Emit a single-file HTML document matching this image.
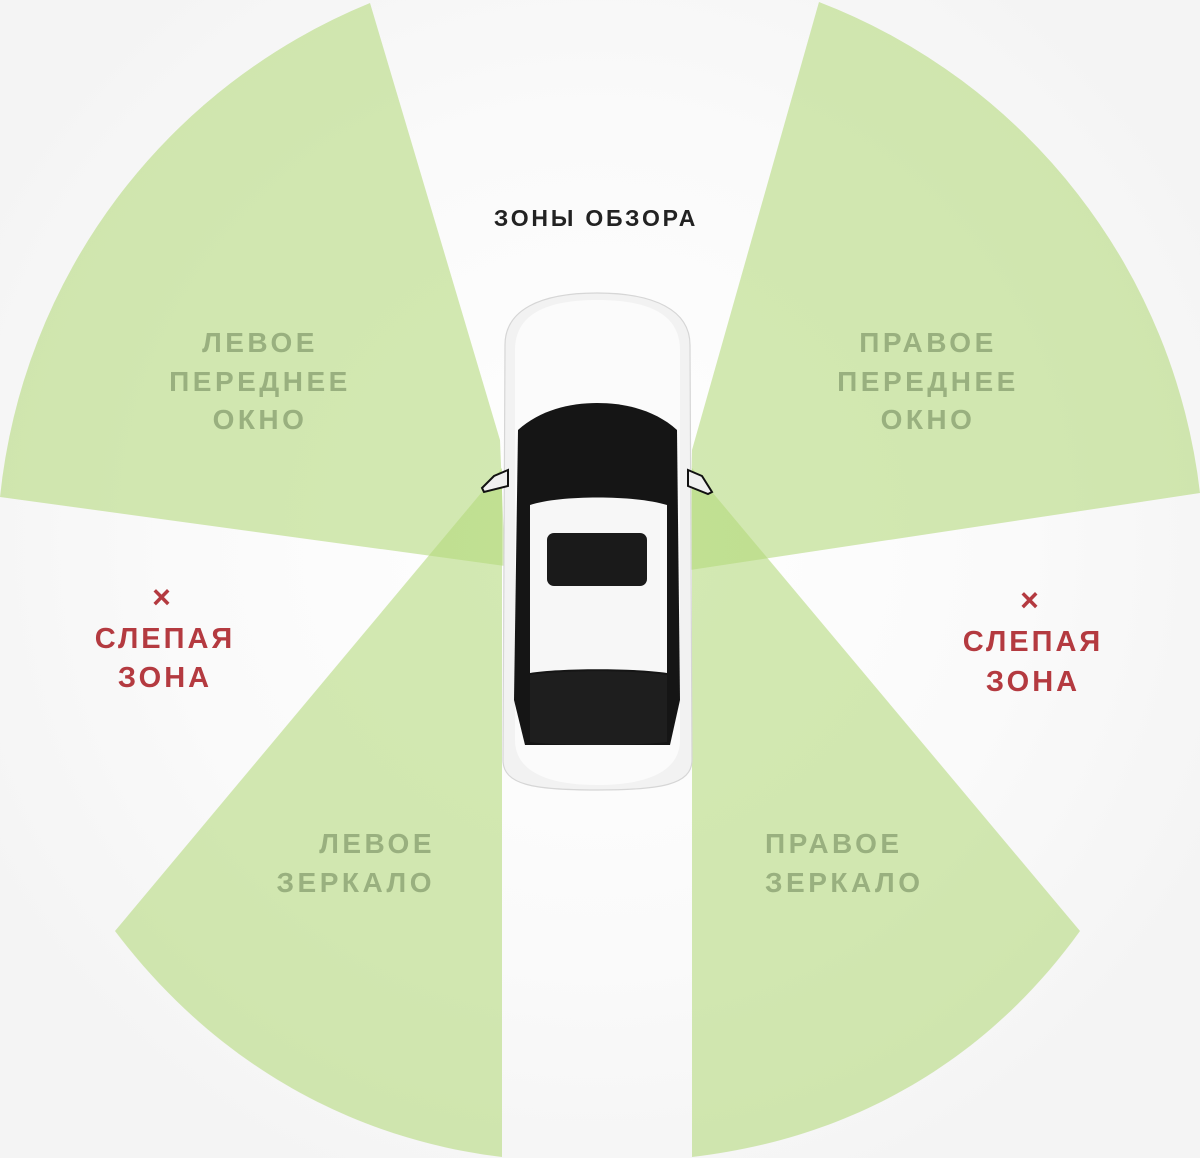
<!DOCTYPE html>
<html><head><meta charset="utf-8"><style>
html,body{margin:0;padding:0;}
body{width:1200px;height:1158px;overflow:hidden;background:#f5f5f5;}
svg{display:block;}
text{font-family:"Liberation Sans",sans-serif;font-weight:bold;}
</style></head><body>
<svg width="1200" height="1158" viewBox="0 0 1200 1158" xmlns="http://www.w3.org/2000/svg">
<defs>
<radialGradient id="bg" cx="597" cy="540" r="700" gradientUnits="userSpaceOnUse">
<stop offset="0" stop-color="#ffffff"/><stop offset="0.6" stop-color="#fafafa"/><stop offset="1" stop-color="#f4f4f4"/>
</radialGradient>
</defs>
<rect width="1200" height="1158" fill="url(#bg)"/>
<g fill="#b3d97b" fill-opacity="0.58">
<path d="M370,3 A600 600 0 0 0 0,497 L505,566 L500,440 Z"/>
<path d="M819,2 A600 600 0 0 1 1200,493 L690,570 L692,450 Z"/>
<path d="M115,931 C220,1070 360,1140 502,1157 L502,468 Z"/>
<path d="M1080,931 C980,1070 840,1140 692,1157 L692,468 Z"/>
</g>
<g>
<path d="M505,345 C505,310 540,293 597,293 C654,293 690,310 690,345 L692,760 C692,785 660,790 597,790 C534,790 503,785 503,760 Z" fill="#f2f2f2" stroke="#d6d6d6" stroke-width="1.2"/>
<path d="M515,350 C515,315 545,300 597,300 C650,300 680,315 680,350 L680,740 C680,770 650,785 597,785 C545,785 515,770 515,740 Z" fill="#fbfbfb"/>
<path d="M518,430 C540,410 570,403 597,403 C625,403 655,410 677,430 L680,700 L670,745 L525,745 L514,700 Z" fill="#151515"/>
<path d="M530,505 C560,495 635,495 667,505 L667,673 C635,668 560,668 530,673 Z" fill="#f7f7f7"/>
<rect x="547" y="533" width="100" height="53" rx="7" fill="#1a1a1a"/>
<path d="M530,675 C560,670 635,670 667,675 L667,742 C635,746 560,746 530,742 Z" fill="#1e1e1e"/>
<path d="M508,470 L494,476 L482,488 L484,492 L508,486 Z" fill="#f0f0f0" stroke="#111" stroke-width="2"/>
<path d="M688,470 L702,476 L712,492 L708,494 L688,486 Z" fill="#f0f0f0" stroke="#111" stroke-width="2"/>
</g>
<text x="596" y="226" font-size="23" fill="#222" text-anchor="middle" letter-spacing="2.8">ЗОНЫ ОБЗОРА</text>
<g fill="#99b07f" font-size="28" text-anchor="middle" letter-spacing="3.5">
<text x="260" y="352">ЛЕВОЕ</text>
<text x="260" y="391">ПЕРЕДНЕЕ</text>
<text x="260" y="429">ОКНО</text>
<text x="928" y="352">ПРАВОЕ</text>
<text x="928" y="391">ПЕРЕДНЕЕ</text>
<text x="928" y="429">ОКНО</text>
</g>
<g fill="#99b07f" font-size="28" letter-spacing="3.5">
<text x="435" y="853" text-anchor="end">ЛЕВОЕ</text>
<text x="435" y="892" text-anchor="end">ЗЕРКАЛО</text>
<text x="765" y="853">ПРАВОЕ</text>
<text x="765" y="892">ЗЕРКАЛО</text>
</g>
<g fill="#b43a40" font-size="29" text-anchor="middle" letter-spacing="3">
<text x="163" y="608" font-size="32">×</text>
<text x="165" y="648">СЛЕПАЯ</text>
<text x="165" y="687">ЗОНА</text>
<text x="1031" y="611" font-size="32">×</text>
<text x="1033" y="651">СЛЕПАЯ</text>
<text x="1033" y="691">ЗОНА</text>
</g>
</svg>
</body></html>
